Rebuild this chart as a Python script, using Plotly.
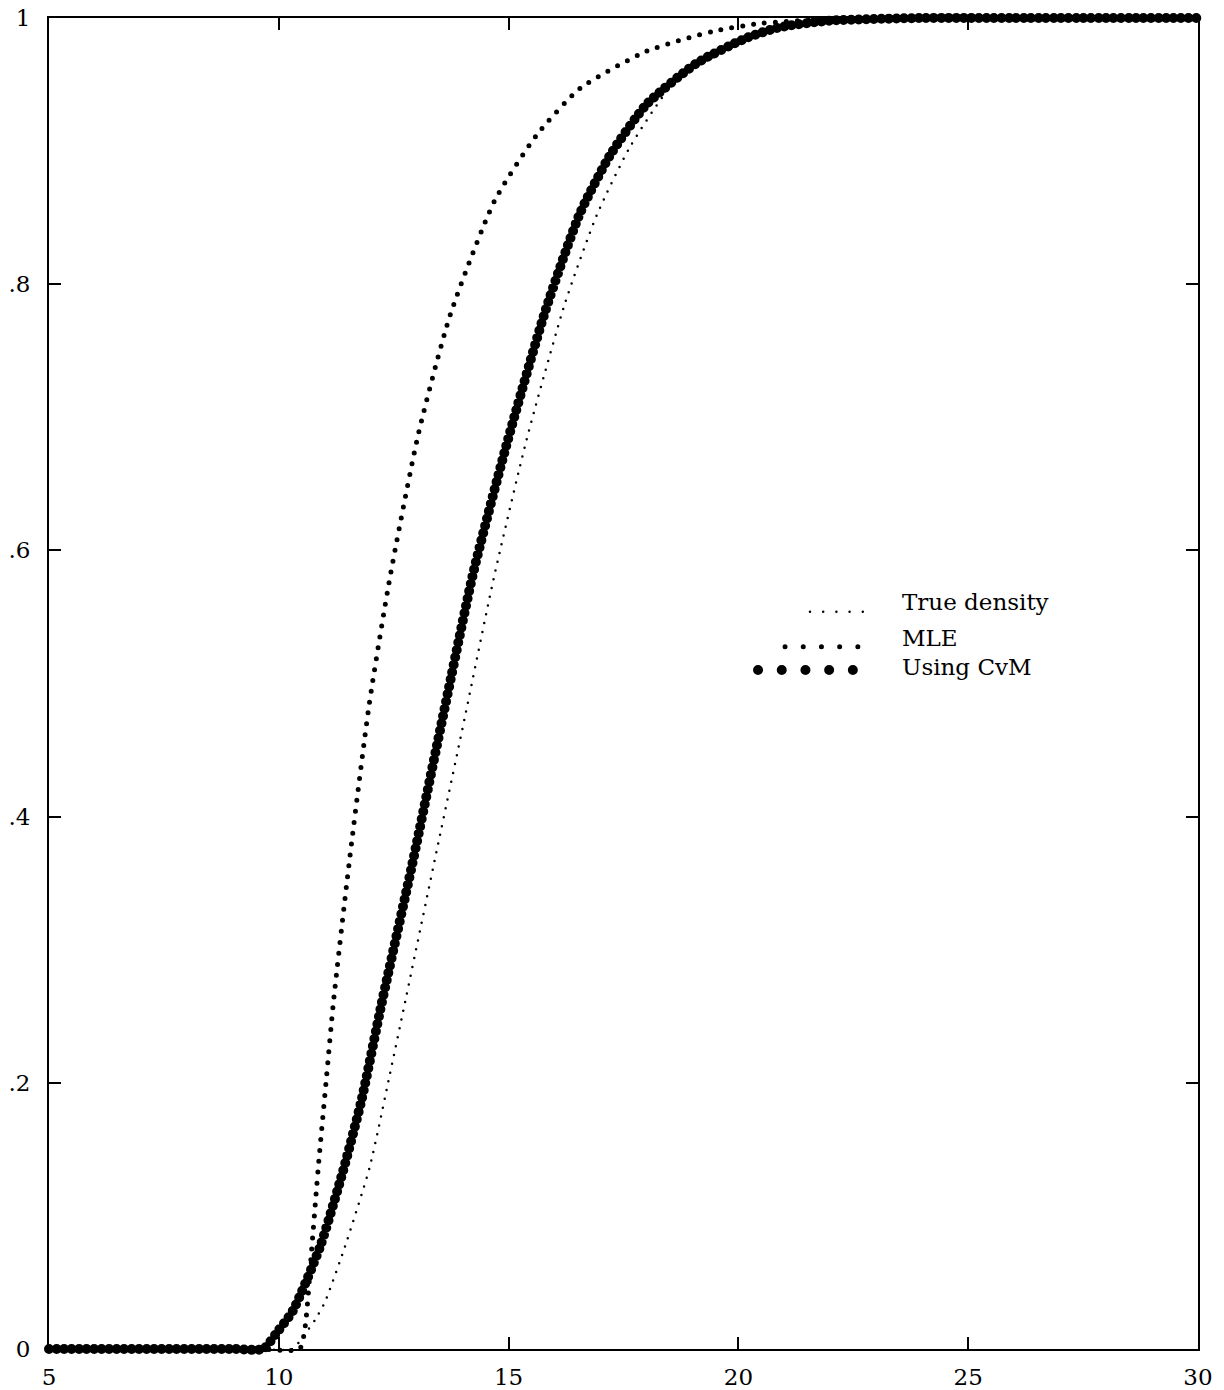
import plotly.graph_objects as go

# ---- data ----
true_x = [5, 9.5, 10.3, 10.5, 10.79, 11.0, 11.44, 11.98, 12.42, 12.75, 13.36, 14.05, 14.67,
          15.39, 16.23, 16.92, 17.64, 18.58, 19.5, 20.5, 22, 24, 26, 30]
true_y = [0, 0, 0, 0.008, 0.022, 0.035, 0.077, 0.137, 0.207, 0.261, 0.362, 0.475, 0.578,
          0.683, 0.786, 0.852, 0.903, 0.951, 0.975, 0.989, 0.997, 1.0, 1.0, 1.0]

mle_x = [5, 9.5, 10.45, 10.57, 10.72, 10.86, 11.04, 11.19, 11.53, 11.97, 12.42, 13.04, 13.73,
         14.70, 15.61, 16.55, 18.0, 19.45, 20.5, 22, 25, 30]
mle_y = [0, 0, 0, 0.016, 0.077, 0.137, 0.205, 0.261, 0.365, 0.485, 0.580, 0.688, 0.777,
         0.863, 0.912, 0.947, 0.975, 0.990, 0.996, 0.999, 1.0, 1.0]

cvm_x = [5, 9.0, 9.66, 9.95, 10.31, 10.9, 11.4, 11.8, 12.24, 12.89, 13.6, 14.23, 14.96, 15.8,
         16.55, 17.21, 18.0, 19.09, 20.18, 20.9, 22, 24, 26, 30]
cvm_y = [0, 0, 0, 0.012, 0.029, 0.077, 0.134, 0.187, 0.26, 0.362, 0.48, 0.583, 0.68, 0.78,
         0.853, 0.897, 0.935, 0.966, 0.985, 0.993, 0.998, 1.0, 1.0, 1.0]

x_ticks = [5, 10, 15, 20, 25, 30]
x_tick_labels = ["5", "10", "15", "20", "25", "30"]
y_ticks = [0, 0.2, 0.4, 0.6, 0.8, 1]
y_tick_labels = ["0", ".2", ".4", ".6", ".8", "1"]
legend_labels = ["True density", "MLE", "Using CvM"]

# ---- styles ----
series = [
    (true_x, true_y, legend_labels[0], 2.5, "0px,9px"),
    (mle_x, mle_y, legend_labels[1], 5, "0px,11px"),
    (cvm_x, cvm_y, legend_labels[2], 10, "0px,7.5px"),
]

fig = go.Figure()
for xs, ys, name, w, dash in series:
    fig.add_trace(go.Scatter(
        x=xs, y=ys, mode="lines", name=name,
        line=dict(color="black", width=w, dash=dash, shape="spline", smoothing=0.6),
        hoverinfo="skip", showlegend=False,
    ))

# manual legend (samples + labels) in paper coordinates
legend_rows = [
    # x0, x1, y, width, dash, text_y
    (0.6623, 0.7090, 0.554, 2.5, "0px,13.2px", 0.5612),
    (0.6406, 0.7045, 0.5277, 5, "0px,18.2px", 0.5342),
    (0.6171, 0.7002, 0.5101, 10, "0px,23.7px", 0.5124),
]
font_family = "DejaVu Serif"
for (x0, x1, yy, w, dash, ty), label in zip(legend_rows, legend_labels):
    fig.add_shape(type="line", xref="paper", yref="paper", x0=x0, x1=x1, y0=yy, y1=yy,
                  line=dict(color="black", width=w, dash=dash))
    fig.add_annotation(xref="paper", yref="paper", x=0.7406, y=ty, text=label,
                       showarrow=False, xanchor="left", yanchor="middle",
                       font=dict(family=font_family, size=23, color="black"))

axis_common = dict(
    showgrid=False, zeroline=False, showline=True, linewidth=2, linecolor="black",
    mirror="ticks", ticks="inside", ticklen=12, tickwidth=1.5, tickcolor="black",
    tickfont=dict(family=font_family, size=23, color="black"), automargin=False,
)
fig.update_xaxes(range=[5, 30], tickvals=x_ticks, ticktext=x_tick_labels,
                 ticklabelstandoff=6, **axis_common)
fig.update_yaxes(range=[0, 1], tickvals=y_ticks, ticktext=y_tick_labels,
                 ticklabelstandoff=12, **axis_common)

fig.update_layout(
    width=1224, height=1390,
    margin=dict(l=49, r=26, t=18, b=41, autoexpand=False),
    paper_bgcolor="white", plot_bgcolor="white",
    showlegend=False,
)

post = """
var s = document.createElement('style');
s.innerHTML = '.scatterlayer path.js-line, .shapelayer path { stroke-linecap: round !important; }' +
              '.cartesianlayer [clip-path] { clip-path: none !important; }';
document.head.appendChild(s);
"""
fig.write_html("out.html", post_script=post, config={"displayModeBar": False})
